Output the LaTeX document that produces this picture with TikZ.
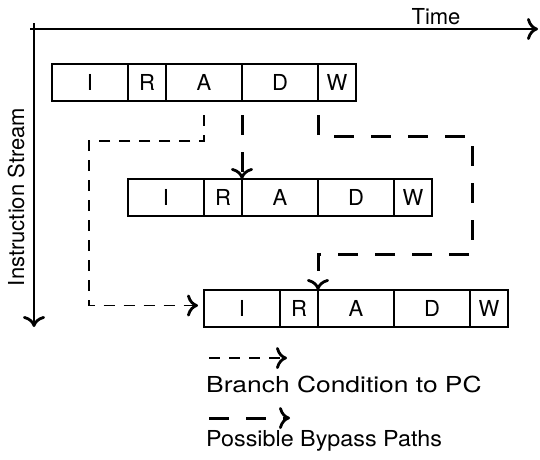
\documentclass[tikz,border=0pt]{standalone}
\usepackage{fontspec}
\usepackage{graphicx}
\setmainfont{TeX Gyre Heros}
\usetikzlibrary{arrows.meta}
\begin{document}
\begin{tikzpicture}[x=1pt,y=-1pt,
  every node/.style={font=\fontsize{22}{25}\selectfont},
  cell/.style={draw, line width=1.7pt, rectangle, inner sep=0pt, outer sep=0pt,
    minimum height=37pt, anchor=north west},
  tip/.style={-{To[length=11pt,width=22pt,line width=2.8pt]}},
  axis/.style={line width=1.7pt, tip},
  branch/.style={line width=1.5pt, dash pattern=on 11pt off 9pt, tip},
  bypass/.style={line width=3pt, dash pattern=on 20pt off 17pt, tip},
  legendtext/.style={anchor=west, inner sep=0pt}
]
\useasboundingbox (0,0) rectangle (540,459);

% axes
\coordinate (hstart) at (30,29);
\coordinate (hend) at (538,29);
\coordinate (vstart) at (34,23);
\coordinate (vend) at (34,327);
\draw[axis] (hstart) -- (hend);
\draw[axis] (vstart) -- (vend);
\node (time) at (436,17) {Time};
\node[rotate=90] (stream) at (16,197) {Instruction Stream};

% three pipelined instructions, each shifted by one stage
\foreach \r/\x/\y in {1/52/64, 2/128/179, 3/204/290} {
  \foreach \lab/\w/\off in {I/76/0, R/38/76, A/76/114, D/76/190, W/38/266} {
    \node[cell, minimum width=\w pt] (r\r\lab) at ({\x+\off},\y) {\lab};
  }
}

% branch condition path
\coordinate (bk1) at (89,141);
\draw[branch, dash phase=11pt, shorten <=5pt, shorten >=6pt]
  (r1A.south) |- (bk1) |- ([yshift=3pt]r3I.west);

% bypass paths
\draw[bypass, dash phase=23pt] (r1A.south east) -- (r2A.north west);
\coordinate (p1) at (472,136);
\coordinate (p2) at (472,254);
\draw[bypass, dash phase=23pt] (r1D.south east) |- (p1) -- (p2) -| (r3A.north west);

% legend
\coordinate (l1a) at (209,358);
\coordinate (l1b) at (287,358);
\draw[branch] (l1a) -- (l1b);
\node[legendtext] (l1t) at (206,384) {\scalebox{1.2}[1]{Branch Condition to PC}};
\coordinate (l2a) at (209,418);
\coordinate (l2b) at (290,418);
\draw[bypass] (l2a) -- (l2b);
\node[legendtext] (l2t) at (206,441) {\scalebox{1.06}[1]{Possible Bypass Paths}};
\end{tikzpicture}
\end{document}
